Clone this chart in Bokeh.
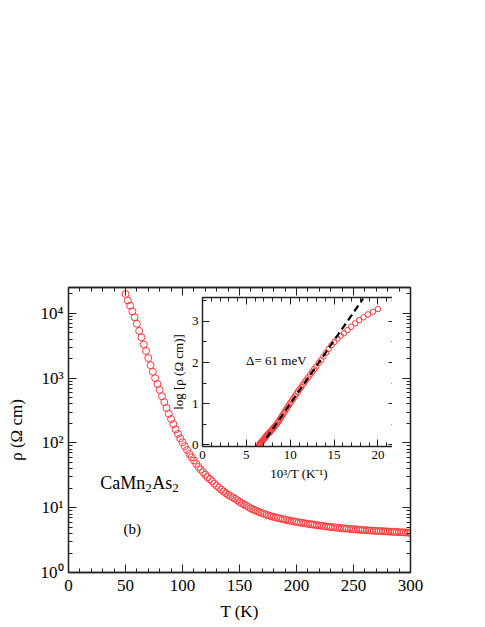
from bokeh.plotting import figure
from bokeh.models import LinearAxis, LogAxis, Label, FixedTicker, CustomLabelingPolicy
from bokeh.layouts import column
from bokeh.embed import file_html
from bokeh.resources import INLINE

# ---------------- data ----------------
T = [50, 52, 54, 56, 58, 60, 62, 64, 66, 68,
     70, 72, 74, 76, 78, 80, 82, 84, 86, 88,
     90, 92, 94, 96, 98, 100, 102, 104, 106, 108,
     110, 112, 114, 116, 118, 120, 122, 124, 126, 128,
     130, 132, 134, 136, 138, 140, 142, 144, 146, 148,
     150, 152, 154, 156, 158, 160, 162, 164, 166, 168,
     170, 172, 174, 176, 178, 180, 182, 184, 186, 188,
     190, 192, 194, 196, 198, 200, 202, 204, 206, 208,
     210, 212, 214, 216, 218, 220, 222, 224, 226, 228,
     230, 232, 234, 236, 238, 240, 242, 244, 246, 248,
     250, 252, 254, 256, 258, 260, 262, 264, 266, 268,
     270, 272, 274, 276, 278, 280, 282, 284, 286, 288,
     290, 292, 294, 296, 298, 300]
log_rho = [4.30, 4.20, 4.12, 4.03, 3.94, 3.84, 3.73, 3.63, 3.52, 3.42,
           3.31, 3.20, 3.10, 3.00, 2.91, 2.82, 2.72, 2.63, 2.54, 2.45,
           2.37, 2.29, 2.21, 2.14, 2.07, 2.01, 1.95, 1.89, 1.83, 1.78,
           1.73, 1.68, 1.63, 1.59, 1.55, 1.51, 1.47, 1.44, 1.41, 1.37,
           1.34, 1.31, 1.28, 1.25, 1.225, 1.20, 1.18, 1.16, 1.14, 1.115,
           1.09, 1.07, 1.05, 1.03, 1.01, 0.99, 0.973, 0.957, 0.942, 0.928,
           0.915, 0.902, 0.890, 0.879, 0.868, 0.858, 0.849, 0.840, 0.832, 0.824,
           0.816, 0.808, 0.801, 0.794, 0.787, 0.781, 0.775, 0.769, 0.763, 0.757,
           0.751, 0.746, 0.741, 0.736, 0.731, 0.726, 0.721, 0.716, 0.711, 0.707,
           0.703, 0.699, 0.695, 0.691, 0.687, 0.683, 0.680, 0.677, 0.674, 0.671,
           0.668, 0.665, 0.662, 0.659, 0.656, 0.653, 0.651, 0.649, 0.647, 0.645,
           0.643, 0.641, 0.639, 0.637, 0.635, 0.633, 0.631, 0.629, 0.627, 0.625,
           0.623, 0.621, 0.619, 0.617, 0.615, 0.613]
rho = [10 ** v for v in log_rho]

inset_T = [50, 51.5, 53, 54.5, 56, 57.5, 59, 60.5, 62, 63.5,
           65, 66.5, 68, 69.5, 71, 72.5, 74, 75.5, 77, 78.5,
           80, 81.5, 83, 84.5, 86, 87.5, 89, 90.5, 92, 93.5,
           95, 96.5, 98, 99.5, 101, 102.5, 104, 105.5, 107, 108.5,
           110, 111.5, 113, 114.5, 116, 117.5, 119, 120.5, 122, 123.5,
           125, 126.5, 128, 129.5, 131, 132.5, 134, 135.5, 137, 138.5,
           140, 141.5, 143, 144.5, 146, 147.5, 149, 150.5, 152, 153.5, 155]
inset_log = [3.30, 3.23, 3.17, 3.10, 3.03, 2.95, 2.87, 2.79, 2.71, 2.65,
             2.58, 2.50, 2.42, 2.33, 2.24, 2.15, 2.06, 1.99, 1.91, 1.84,
             1.77, 1.71, 1.64, 1.58, 1.52, 1.46, 1.40, 1.35, 1.29, 1.24,
             1.18, 1.13, 1.08, 1.03, 0.985, 0.94, 0.89, 0.85, 0.80, 0.755,
             0.71, 0.67, 0.63, 0.59, 0.555, 0.52, 0.49, 0.465, 0.44, 0.415,
             0.39, 0.365, 0.345, 0.32, 0.30, 0.28, 0.265, 0.245, 0.225, 0.20,
             0.18, 0.16, 0.14, 0.12, 0.10, 0.085, 0.07, 0.05, 0.035, 0.02, 0.00]
inset_x = [1000.0 / t for t in inset_T]

fit_x = [7.3, 18.3]
fit_y = [0.17, 3.55]

x_major = [0, 50, 100, 150, 200, 250, 300]
x_minor = list(range(0, 301, 10))
y_major = [1, 10, 100, 1000, 10000]
y_minor = [m * d for d in [1, 10, 100, 1000, 10000] for m in range(2, 10)]
y_labels = {1: "10⁰", 10: "10¹", 100: "10²", 1000: "10³", 10000: "10⁴"}

FONT = "Liberation Serif"
AX = "#222222"
RED = "#ff3a3a"

NO_LABELS = "for (const i of Array.from(indices)) { indices.unset(i) }\nreturn indices"


def style_axis(ax, major_in=8, minor_in=4, size="17px", show=True):
    ax.axis_line_color = AX
    ax.axis_line_width = 1.3
    ax.major_tick_line_color = AX
    ax.minor_tick_line_color = AX
    ax.major_tick_in = major_in
    ax.major_tick_out = 0
    ax.minor_tick_in = minor_in
    ax.minor_tick_out = 0
    ax.major_label_text_font = FONT
    ax.major_label_text_color = "black"
    ax.major_label_text_font_size = size
    ax.axis_label_text_font = FONT
    ax.axis_label_text_font_style = "normal"
    ax.axis_label_text_color = "black"
    if not show:
        ax.major_label_policy = CustomLabelingPolicy(code=NO_LABELS)


def label(fig, x, y, text, size, **kw):
    fig.add_layout(Label(x=x, y=y, text=text, text_font=FONT,
                         text_font_size=size, text_color="black", **kw))


# ---------------- main figure ----------------
p = figure(frame_width=342, frame_height=285,
           x_range=(0, 300), y_range=(1, 10 ** 4.4), y_axis_type="log",
           output_backend="svg", toolbar_location=None,
           min_border_left=68, min_border_right=60,
           min_border_top=287, min_border_bottom=50)
p.outline_line_color = AX
p.outline_line_width = 1.3
p.grid.visible = False

p.xaxis.ticker = FixedTicker(ticks=x_major, minor_ticks=x_minor)
p.yaxis.ticker = FixedTicker(ticks=y_major, minor_ticks=y_minor)
p.yaxis.major_label_overrides = y_labels
for ax in p.xaxis + p.yaxis:
    style_axis(ax)
p.xaxis.axis_label = "T (K)"
p.yaxis.axis_label = "ρ (Ω cm)"
p.xaxis.axis_label_text_font_size = "17px"
p.yaxis.axis_label_text_font_size = "17px"
p.xaxis.major_label_standoff = 7
p.xaxis.axis_label_standoff = 8
p.yaxis.major_label_standoff = 5
p.yaxis.axis_label_standoff = 12

top_ax = LinearAxis(ticker=FixedTicker(ticks=x_major, minor_ticks=x_minor))
style_axis(top_ax, show=False)
p.add_layout(top_ax, "above")
right_ax = LogAxis(ticker=FixedTicker(ticks=y_major, minor_ticks=y_minor))
style_axis(right_ax, show=False)
p.add_layout(right_ax, "right")

p.scatter(T, rho, marker="circle", size=7, fill_color=None,
          line_color=RED, line_width=1)

label(p, 27.8, 24.3, "CaMn", "18px", text_baseline="alphabetic")
label(p, 27.8, 24.3, "2", "13px", x_offset=45, y_offset=-5, text_baseline="alphabetic")
label(p, 27.8, 24.3, "As", "18px", x_offset=52, text_baseline="alphabetic")
label(p, 27.8, 24.3, "2", "13px", x_offset=72, y_offset=-5, text_baseline="alphabetic")
label(p, 56, 4.73, "(b)", "15px", text_align="center", text_baseline="middle")

# ---------------- inset ----------------
ix_major = [0, 5, 10, 15, 20]
ix_minor = list(range(0, 23))
iy_major = [0, 1, 2, 3]
iy_minor = [0, 0.5, 1, 1.5, 2, 2.5, 3, 3.5]

ins = figure(frame_width=193, frame_height=149,
             x_range=(0, 22), y_range=(-0.04, 3.58),
             output_backend="svg", toolbar_location=None,
             min_border_left=45, min_border_right=20,
             min_border_top=20, min_border_bottom=45,
             background_fill_color="white", border_fill_color=None)
ins.outline_line_color = AX
ins.outline_line_width = 1.2
ins.grid.visible = False
ins.xaxis.ticker = FixedTicker(ticks=ix_major, minor_ticks=ix_minor)
ins.yaxis.ticker = FixedTicker(ticks=iy_major, minor_ticks=iy_minor)
for ax in ins.xaxis + ins.yaxis:
    style_axis(ax, major_in=7, minor_in=4, size="13px")
ins.xaxis.axis_label = "10³/T (K⁻¹)"
ins.yaxis.axis_label = "log [ρ (Ω cm)]"
ins.xaxis.axis_label_text_font_size = "13px"
ins.yaxis.axis_label_text_font_size = "13px"
ins.xaxis.major_label_standoff = 4
ins.xaxis.axis_label_standoff = 4
ins.yaxis.major_label_standoff = 4
ins.yaxis.axis_label_standoff = 3
itop = LinearAxis(ticker=FixedTicker(ticks=ix_major, minor_ticks=ix_minor))
style_axis(itop, major_in=7, minor_in=4, show=False)
ins.add_layout(itop, "above")
iright = LinearAxis(ticker=FixedTicker(ticks=iy_major, minor_ticks=iy_minor))
style_axis(iright, major_in=7, minor_in=4, show=False)
ins.add_layout(iright, "right")

ins.scatter(inset_x, inset_log, marker="circle", size=5.5, fill_color=None,
            line_color=RED, line_width=1)
ins.line(fit_x, fit_y, line_color="black", line_width=2.2, line_dash="7 4")
label(ins, 4.97, 2.04, "Δ= 61 meV", "13px", text_baseline="middle")

ins.styles = {"position": "absolute", "left": "134px", "top": "277px"}

layout = column(p, ins)
open("out.html", "w").write(file_html(layout, INLINE))
